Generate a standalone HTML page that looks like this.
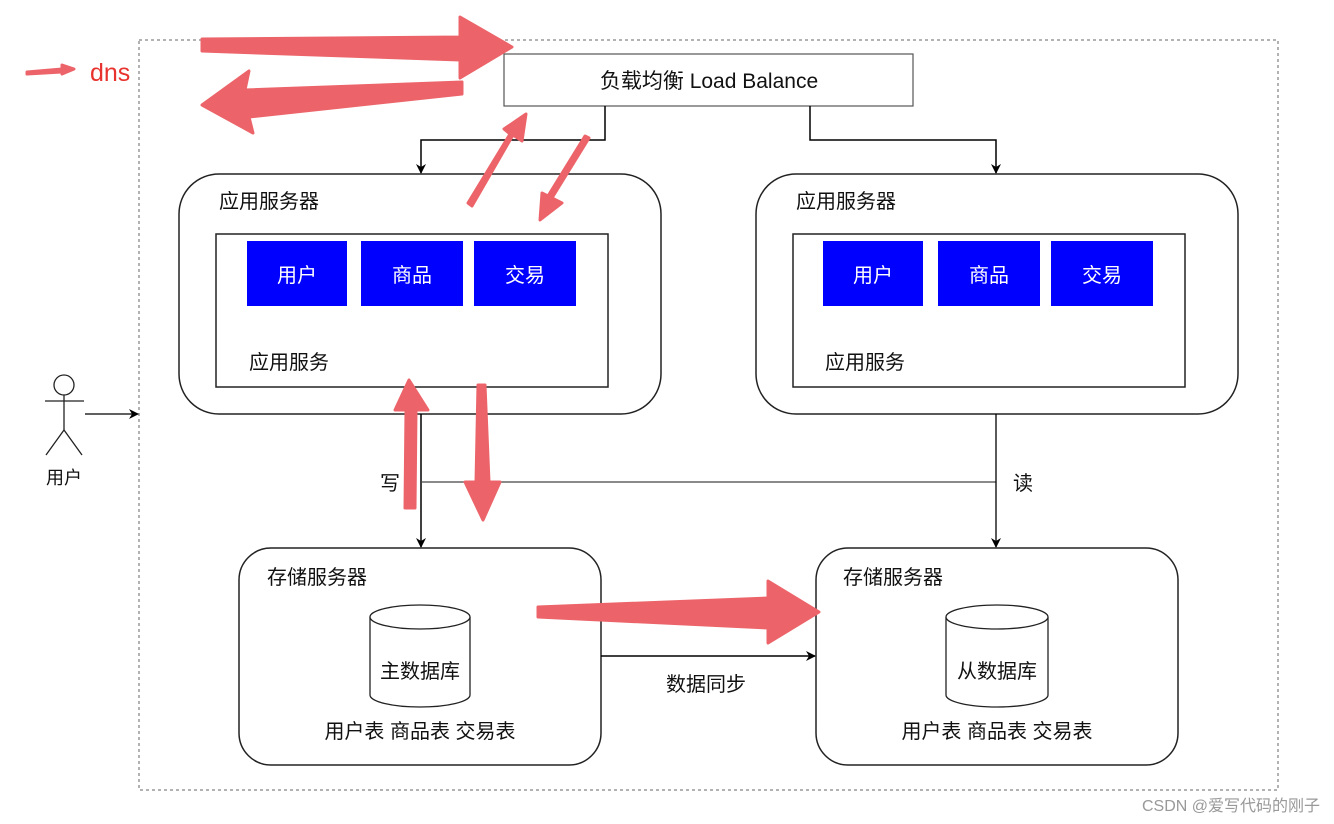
<!DOCTYPE html>
<html><head><meta charset="utf-8"><style>
html,body{margin:0;padding:0;background:#fff;}
svg{display:block;}
text{font-family:"Liberation Sans","Noto Sans CJK SC",sans-serif;}
</style></head><body>
<svg width="1334" height="824" viewBox="0 0 1334 824" xmlns="http://www.w3.org/2000/svg">
<defs>
<marker id="ah" markerWidth="10" markerHeight="10" refX="9" refY="5" orient="auto" markerUnits="userSpaceOnUse">
<path d="M0,0 L10,5 L0,10 L3,5 Z" fill="#000"/></marker>
</defs>
<rect x="139" y="40" width="1139" height="750" fill="none" stroke="#666" stroke-width="1" stroke-dasharray="3,3"/>
<rect x="504" y="54" width="409" height="52" fill="#fff" stroke="#555" stroke-width="1.2"/>
<text x="709" y="88" font-size="21" text-anchor="middle" fill="#111">负载均衡 Load Balance</text>
<polyline points="605,106 605,140 421,140 421,173" fill="none" stroke="#000" stroke-width="1.5" marker-end="url(#ah)"/>
<polyline points="810,106 810,140 996,140 996,173" fill="none" stroke="#000" stroke-width="1.5" marker-end="url(#ah)"/>

<rect x="179" y="174" width="482" height="240" rx="40" fill="none" stroke="#222" stroke-width="1.5"/>
<text x="219" y="208" font-size="20" fill="#111">应用服务器</text>
<rect x="216" y="234" width="392" height="153" fill="none" stroke="#222" stroke-width="1.5"/>
<rect x="247" y="241" width="100" height="65" fill="#0000FF"/>
<rect x="361" y="241" width="102" height="65" fill="#0000FF"/>
<rect x="474" y="241" width="102" height="65" fill="#0000FF"/>
<text x="297" y="282" font-size="20" fill="#fff" text-anchor="middle">用户</text>
<text x="412" y="282" font-size="20" fill="#fff" text-anchor="middle">商品</text>
<text x="525" y="282" font-size="20" fill="#fff" text-anchor="middle">交易</text>
<text x="249" y="369" font-size="20" fill="#111">应用服务</text>

<rect x="756" y="174" width="482" height="240" rx="40" fill="none" stroke="#222" stroke-width="1.5"/>
<text x="796" y="208" font-size="20" fill="#111">应用服务器</text>
<rect x="793" y="234" width="392" height="153" fill="none" stroke="#222" stroke-width="1.5"/>
<rect x="823" y="241" width="100" height="65" fill="#0000FF"/>
<rect x="938" y="241" width="102" height="65" fill="#0000FF"/>
<rect x="1051" y="241" width="102" height="65" fill="#0000FF"/>
<text x="873" y="282" font-size="20" fill="#fff" text-anchor="middle">用户</text>
<text x="989" y="282" font-size="20" fill="#fff" text-anchor="middle">商品</text>
<text x="1102" y="282" font-size="20" fill="#fff" text-anchor="middle">交易</text>
<text x="825" y="369" font-size="20" fill="#111">应用服务</text>

<line x1="421" y1="414" x2="421" y2="547" stroke="#000" stroke-width="1.5" marker-end="url(#ah)"/>
<line x1="421" y1="482" x2="996" y2="482" stroke="#444" stroke-width="1.3"/>
<line x1="996" y1="414" x2="996" y2="547" stroke="#000" stroke-width="1.3" marker-end="url(#ah)"/>
<text x="380" y="490" font-size="20" fill="#111">写</text>
<text x="1013" y="490" font-size="20" fill="#111">读</text>

<rect x="239" y="548" width="362" height="217" rx="32" fill="none" stroke="#222" stroke-width="1.5"/>
<text x="267" y="584" font-size="20" fill="#111">存储服务器</text>
<path d="M370,617 L370,695 A50,12 0 0 0 470,695 L470,617" fill="#fff" stroke="#222" stroke-width="1.3"/>
<ellipse cx="420" cy="617" rx="50" ry="12" fill="#fff" stroke="#222" stroke-width="1.3"/>
<text x="420" y="678" font-size="20" fill="#111" text-anchor="middle">主数据库</text>
<text x="420" y="738" font-size="20" fill="#111" text-anchor="middle">用户表 商品表 交易表</text>

<rect x="816" y="548" width="362" height="217" rx="32" fill="none" stroke="#222" stroke-width="1.5"/>
<text x="843" y="584" font-size="20" fill="#111">存储服务器</text>
<path d="M946,617 L946,695 A51,12 0 0 0 1048,695 L1048,617" fill="#fff" stroke="#222" stroke-width="1.3"/>
<ellipse cx="997" cy="617" rx="51" ry="12" fill="#fff" stroke="#222" stroke-width="1.3"/>
<text x="997" y="678" font-size="20" fill="#111" text-anchor="middle">从数据库</text>
<text x="997" y="738" font-size="20" fill="#111" text-anchor="middle">用户表 商品表 交易表</text>

<line x1="601" y1="656" x2="815" y2="656" stroke="#000" stroke-width="1.5" marker-end="url(#ah)"/>
<text x="706" y="691" font-size="20" fill="#111" text-anchor="middle">数据同步</text>

<circle cx="64" cy="385" r="10" fill="#fff" stroke="#222" stroke-width="1.3"/>
<line x1="64" y1="395" x2="64" y2="430" stroke="#222" stroke-width="1.3"/>
<line x1="45" y1="401" x2="84" y2="401" stroke="#222" stroke-width="1.3"/>
<line x1="64" y1="430" x2="46" y2="455" stroke="#222" stroke-width="1.3"/>
<line x1="64" y1="430" x2="82" y2="455" stroke="#222" stroke-width="1.3"/>
<text x="64" y="484" font-size="18" fill="#111" text-anchor="middle">用户</text>
<line x1="85" y1="414" x2="138" y2="414" stroke="#000" stroke-width="1.3" marker-end="url(#ah)"/>

<g fill="#EC6469" stroke="#EC6469" stroke-width="3" stroke-linejoin="round">
<polygon points="27,72 62,69 62,65 74,69 62,74 62,72 27,74"/>
<polygon points="202,39 460,37 460,17 512,47 460,78 460,60 202,51"/>
<polygon points="462,82 462,94 249,117 253,133 202,105 249,71 245,90"/>
<polygon points="468,203 472,206 513,135 522,141 526,114 504,129 510,134"/>
<polygon points="585,136 589,138 552,198 562,203 540,220 542,193 548,196"/>
<polygon points="405,508 415,508 416,410 428,410 409,380 395,410 406,410"/>
<polygon points="478,385 485,385 489,482 500,482 483,520 465,482 476,482"/>
<polygon points="538,607 768,598 768,581 819,612 768,643 768,628 538,617"/>
</g>
<text x="90" y="81" font-size="25" fill="#E8322E">dns</text>
<text x="1320" y="811" font-size="16" fill="#999" text-anchor="end">CSDN @爱写代码的刚子</text>
</svg>
</body></html>
